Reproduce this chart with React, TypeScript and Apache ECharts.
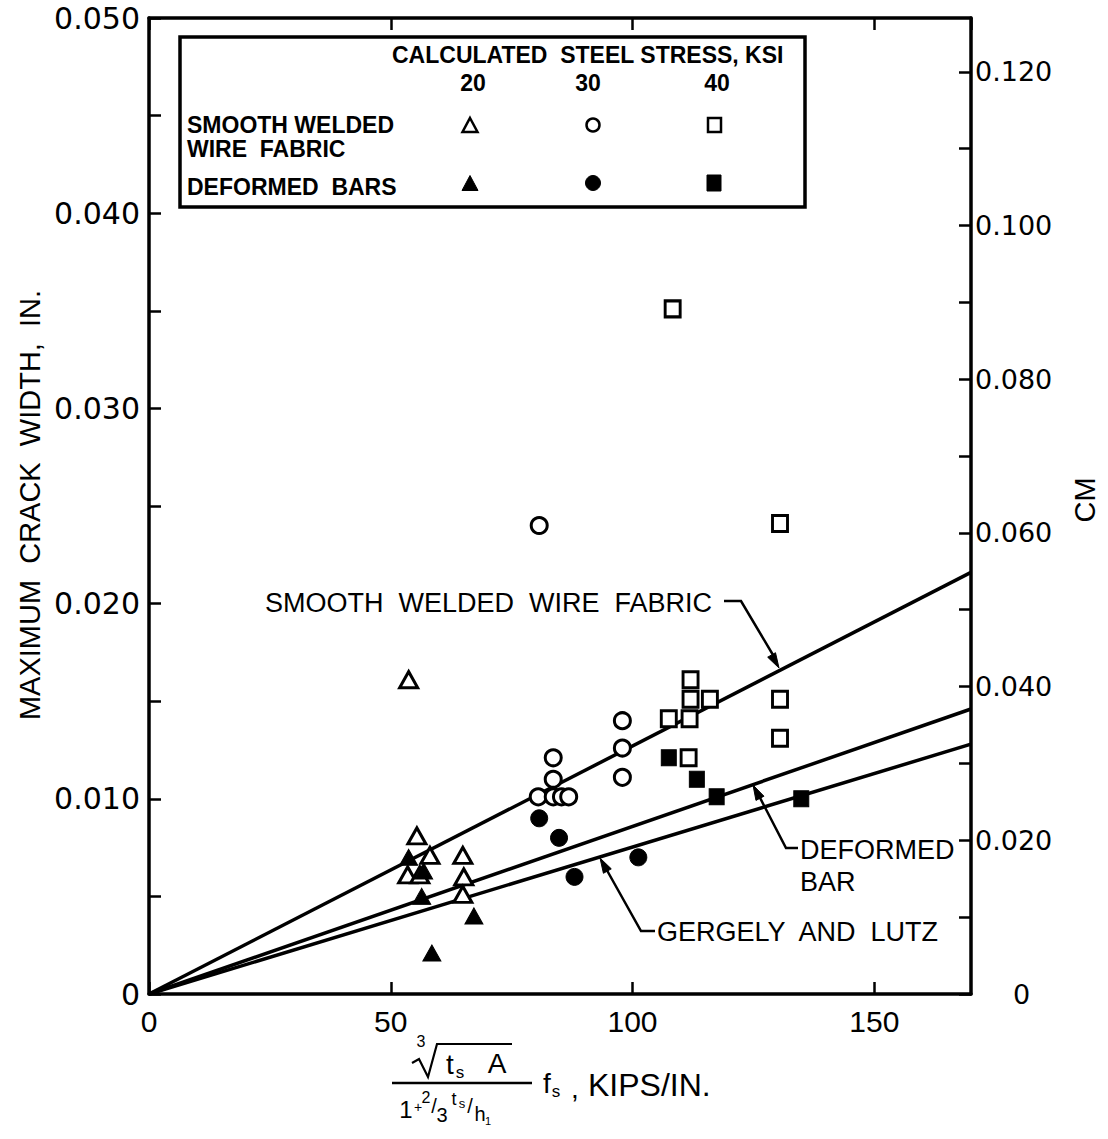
import React, { useEffect, useRef } from "react";
import * as echarts from "echarts";

// ---------- data ----------
const X_MAX = 170;
const Y_MAX_IN = 0.05;
const Y_MAX_CM = 0.127;

// Smooth welded wire fabric (open symbols)
const wwf20: [number, number][] = [
  [53.7, 0.0161], [55.4, 0.0081], [58.1, 0.0071], [53.5, 0.0061],
  [56.0, 0.0061], [64.9, 0.0071], [65.1, 0.0060], [64.9, 0.0051],
];
const wwf30: [number, number][] = [
  [80.7, 0.024], [83.6, 0.0121], [83.6, 0.011], [80.5, 0.0101],
  [83.6, 0.0101], [85.3, 0.0101], [86.8, 0.0101], [97.9, 0.014],
  [97.9, 0.0126], [97.9, 0.0111],
];
const wwf40: [number, number][] = [
  [108.3, 0.0351], [130.5, 0.0241], [112.0, 0.0161], [112.0, 0.0151],
  [116.0, 0.0151], [107.5, 0.0141], [111.8, 0.0141], [111.6, 0.0121],
  [130.5, 0.0151], [130.5, 0.0131],
];
// Deformed bars (filled symbols)
const def20: [number, number][] = [
  [53.7, 0.007], [56.8, 0.0063], [56.4, 0.005], [67.2, 0.004], [58.5, 0.0021],
];
const def30: [number, number][] = [
  [80.7, 0.009], [84.8, 0.008], [101.2, 0.007], [88.0, 0.006],
];
const def40: [number, number][] = [
  [107.5, 0.0121], [113.3, 0.011], [117.4, 0.0101], [134.9, 0.01],
];
// Fitted lines through the origin
const lineWWF: [number, number][] = [[0, 0], [170, 0.0216]];
const lineDeformed: [number, number][] = [[0, 0], [170, 0.0146]];
const lineGL: [number, number][] = [[0, 0], [170, 0.0128]];

// ---------- styling ----------
const ROUND = "'DejaVu Sans', sans-serif";
const LETTER = "'Liberation Sans', 'DejaVu Sans', sans-serif";
const NARROW = "'Liberation Sans Narrow', 'Liberation Sans', sans-serif";

function txt(text: string, x: number, y: number, font: string, align = "left", rotation = 0) {
  return {
    type: "text",
    x,
    y,
    rotation,
    z: 100,
    style: { text, font, fill: "#000", textAlign: align, textVerticalAlign: "middle" },
  };
}

function arrow(tip: [number, number], from: [number, number], len = 15, half = 4.5) {
  const dx = tip[0] - from[0];
  const dy = tip[1] - from[1];
  const d = Math.hypot(dx, dy);
  const ux = dx / d, uy = dy / d;
  const bx = tip[0] - ux * len, by = tip[1] - uy * len;
  const px = -uy, py = ux;
  return {
    type: "polygon",
    z: 100,
    shape: { points: [tip, [bx + px * half, by + py * half], [bx - px * half, by - py * half]] },
    style: { fill: "#000", stroke: "#000", lineWidth: 1 },
  };
}

function poly(points: number[][], lineWidth = 2.5) {
  return {
    type: "polyline",
    z: 100,
    shape: { points },
    style: { stroke: "#000", lineWidth, fill: null },
  };
}

export default function App() {
  const ref = useRef<HTMLDivElement>(null);

  useEffect(() => {
    document.body.style.margin = "0";
    document.body.style.overflow = "hidden";
    if (!ref.current) return;
    const chart = echarts.init(ref.current, undefined, { renderer: "svg" });

    const axisLine = { show: true, onZero: false, lineStyle: { color: "#000", width: 3.5 } };
    const axisTick = { show: true, inside: true, length: 12, lineStyle: { color: "#000", width: 2.5 } };

    const openStyle = { color: "#fff", borderColor: "#000", borderWidth: 3, opacity: 1 };
    const fillStyle = { color: "#000", borderColor: "#000", borderWidth: 1, opacity: 1 };

    const scatter = (data: [number, number][], symbol: string, size: any, style: any) => ({
      type: "scatter",
      data,
      symbol,
      symbolSize: size,
      itemStyle: style,
      z: 5,
      silent: true,
    });
    const line = (data: [number, number][]) => ({
      type: "line",
      data,
      showSymbol: false,
      symbol: "none",
      lineStyle: { color: "#000", width: 3.5 },
      z: 3,
      silent: true,
    });

    // legend symbols
    const triPts = (cx: number, cy: number, w: number, h: number) => [
      [cx, cy - h / 2], [cx + w / 2, cy + h / 2], [cx - w / 2, cy + h / 2],
    ];

    const graphic: any[] = [
      // legend box
      {
        type: "rect", z: 90,
        shape: { x: 180, y: 37, width: 625, height: 170 },
        style: { fill: "#fff", stroke: "#000", lineWidth: 3.5 },
      },
      txt("CALCULATED  STEEL STRESS, KSI", 392, 55, `bold 23px ${NARROW}`),
      txt("20", 473, 83, `bold 23px ${NARROW}`, "center"),
      txt("30", 588, 83, `bold 23px ${NARROW}`, "center"),
      txt("40", 717, 83, `bold 23px ${NARROW}`, "center"),
      txt("SMOOTH WELDED", 187, 125, `bold 23px ${NARROW}`),
      txt("WIRE  FABRIC", 187, 149, `bold 23px ${NARROW}`),
      txt("DEFORMED  BARS", 187, 187, `bold 23px ${NARROW}`),
      { type: "polygon", z: 100, shape: { points: triPts(470, 125, 15, 14) }, style: { fill: "#fff", stroke: "#000", lineWidth: 2.5 } },
      { type: "circle", z: 100, shape: { cx: 593, cy: 125, r: 6.5 }, style: { fill: "#fff", stroke: "#000", lineWidth: 2.5 } },
      { type: "rect", z: 100, shape: { x: 708, y: 118, width: 13, height: 14 }, style: { fill: "#fff", stroke: "#000", lineWidth: 2.5 } },
      { type: "polygon", z: 100, shape: { points: triPts(470, 183, 16, 15) }, style: { fill: "#000", stroke: "#000", lineWidth: 1 } },
      { type: "circle", z: 100, shape: { cx: 593, cy: 183, r: 7.5 }, style: { fill: "#000", stroke: "#000", lineWidth: 1 } },
      { type: "rect", z: 100, shape: { x: 707, y: 175, width: 14, height: 16 }, style: { fill: "#000", stroke: "#000", lineWidth: 1 } },

      // line annotations
      txt("SMOOTH  WELDED  WIRE  FABRIC", 265, 603, `27px ${LETTER}`),
      poly([[724, 601], [741, 601], [776, 660]]),
      arrow([779, 668], [741, 601]),
      txt("DEFORMED", 800, 850, `27px ${LETTER}`),
      txt("BAR", 800, 882, `27px ${LETTER}`),
      poly([[798, 848], [786, 848], [757, 792]]),
      arrow([753, 785], [786, 848]),
      txt("GERGELY  AND  LUTZ", 657, 932, `27px ${LETTER}`),
      poly([[655, 931], [641, 931], [604, 865]]),
      arrow([600, 858], [641, 931]),

      // axis titles
      txt("MAXIMUM  CRACK  WIDTH,  IN.", 30, 505, `29px ${LETTER}`, "center", Math.PI / 2),
      txt("CM", 1085, 500, `29px ${LETTER}`, "center", Math.PI / 2),

      // x-axis title formula
      txt("3", 421, 1041, `16px ${LETTER}`, "center"),
      poly([[412, 1063], [419, 1059], [428, 1077], [437, 1044], [512, 1044]], 2.2),
      txt("t", 450, 1064, `28px ${LETTER}`, "center"),
      txt("s", 460, 1072, `17px ${LETTER}`, "center"),
      txt("A", 497, 1063, `28px ${LETTER}`, "center"),
      poly([[392, 1083], [532, 1083]], 2.5),
      txt("1", 406, 1109, `24px ${LETTER}`, "center"),
      txt("+", 418, 1107, `14px ${LETTER}`, "center"),
      txt("2", 426, 1097, `16px ${LETTER}`, "center"),
      txt("/", 434, 1106, `20px ${LETTER}`, "center"),
      txt("3", 442, 1115, `20px ${LETTER}`, "center"),
      txt("t", 454, 1099, `18px ${LETTER}`, "center"),
      txt("s", 462, 1103, `13px ${LETTER}`, "center"),
      txt("/", 470, 1106, `20px ${LETTER}`, "center"),
      txt("h", 480, 1114, `20px ${LETTER}`, "center"),
      txt("1", 488, 1121, `11px ${LETTER}`, "center"),
      txt("f", 547, 1083, `28px ${LETTER}`, "center"),
      txt("s", 556, 1091, `17px ${LETTER}`, "center"),
      txt(",", 575, 1088, `28px ${LETTER}`, "center"),
      txt("KIPS/IN.", 588, 1085, `32px ${LETTER}`),
    ];

    const option: any = {
      animation: false,
      backgroundColor: "#fff",
      grid: { left: 149, right: 137, top: 18, bottom: 145 },
      xAxis: [
        {
          type: "value", position: "bottom", min: 0, max: X_MAX, interval: 50,
          axisLine, axisTick,
          splitLine: { show: false },
          axisLabel: {
            margin: 12, color: "#000", fontSize: 30, fontFamily: NARROW,
            showMaxLabel: false,
            formatter: (v: number) => (v % 50 === 0 && v <= 150 ? String(v) : ""),
          },
        },
        {
          type: "value", position: "top", min: 0, max: X_MAX, interval: 50,
          axisLine, axisTick, splitLine: { show: false }, axisLabel: { show: false },
        },
      ],
      yAxis: [
        {
          type: "value", position: "left", min: 0, max: Y_MAX_IN, interval: 0.005,
          axisLine, axisTick, splitLine: { show: false },
          axisLabel: {
            margin: 9, color: "#000", fontSize: 30, fontFamily: ROUND,
            formatter: (v: number) => {
              const r = Math.round(v * 1000);
              if (r % 10 !== 0) return "";
              return r === 0 ? "0" : (r / 1000).toFixed(3);
            },
          },
        },
        {
          type: "value", position: "right", min: 0, max: Y_MAX_CM, interval: 0.01,
          axisLine, axisTick, splitLine: { show: false },
          axisLabel: {
            margin: 4, color: "#000", fontSize: 27, fontFamily: ROUND,
            showMaxLabel: false,
            rich: { z: { padding: [0, 0, 0, 38], fontSize: 27, fontFamily: ROUND, color: "#000" } },
            formatter: (v: number) => {
              const r = Math.round(v * 1000);
              if (r % 20 !== 0 || r > 120) return "";
              return r === 0 ? "{z|0}" : (r / 1000).toFixed(3);
            },
          },
        },
      ],
      series: [
        line(lineWWF),
        line(lineDeformed),
        line(lineGL),
        scatter(wwf20, "triangle", [18, 16], openStyle),
        scatter(wwf30, "circle", 16, openStyle),
        scatter(wwf40, "rect", [15, 16], openStyle),
        scatter(def20, "triangle", [18, 16], fillStyle),
        scatter(def30, "circle", 17, fillStyle),
        scatter(def40, "rect", [15, 16], fillStyle),
      ],
      graphic,
    };

    chart.setOption(option);
    return () => chart.dispose();
  }, []);

  return <div ref={ref} style={{ width: 1108, height: 1139 }} />;
}
